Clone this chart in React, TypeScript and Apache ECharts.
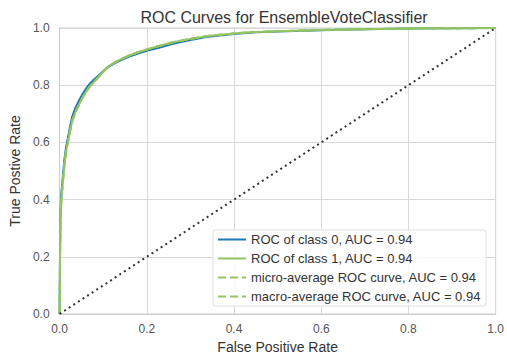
import React, { useEffect, useRef } from "react";
import * as echarts from "echarts";

const fpr = [0, 0.001, 0.002, 0.004, 0.008, 0.011, 0.015, 0.019, 0.024, 0.029, 0.036, 0.044, 0.052, 0.060, 0.069, 0.079, 0.090, 0.100, 0.112, 0.126, 0.142, 0.160, 0.180, 0.200, 0.230, 0.260, 0.300, 0.340, 0.400, 0.450, 0.500, 0.600, 0.700, 0.800, 0.900, 1.0];
const tprClass1 = [0, 0.20, 0.33, 0.40, 0.47, 0.52, 0.57, 0.60, 0.64, 0.675, 0.705, 0.73, 0.755, 0.775, 0.795, 0.812, 0.830, 0.847, 0.866, 0.879, 0.892, 0.904, 0.915, 0.925, 0.938, 0.950, 0.962, 0.972, 0.981, 0.986, 0.989, 0.993, 0.996, 0.998, 0.999, 1.0];
const tprClass0 = [0, 0.21, 0.35, 0.42, 0.49, 0.54, 0.585, 0.615, 0.655, 0.69, 0.72, 0.745, 0.768, 0.787, 0.805, 0.82, 0.835, 0.849, 0.864, 0.876, 0.889, 0.900, 0.911, 0.920, 0.932, 0.945, 0.958, 0.969, 0.979, 0.985, 0.988, 0.992, 0.996, 0.998, 0.999, 1.0];
const tprMicro = tprClass1;
const tprMacro = tprClass1;
const chanceLine = [0, 1];

const seriesNames = [
  "ROC of class 0, AUC = 0.94",
  "ROC of class 1, AUC = 0.94",
  "micro-average ROC curve, AUC = 0.94",
  "macro-average ROC curve, AUC = 0.94",
];
const titleText = "ROC Curves for EnsembleVoteClassifier";
const xName = "False Positive Rate";
const yName = "True Postive Rate";

const BLUE = "#1f77b4";
const GREEN = "#94c463";
const FONT = "Liberation Sans, Arial, sans-serif";

function pairs(xs: number[], ys: number[]) {
  return xs.map((x, i) => [x, ys[i]]);
}

export default function App() {
  const ref = useRef<HTMLDivElement>(null);
  useEffect(() => {
    document.body.style.margin = "0";
    const chart = echarts.init(ref.current!, null, { renderer: "svg" });
    const axisCommon = {
      type: "value" as const,
      min: 0,
      max: 1,
      interval: 0.2,
      nameLocation: "middle" as const,
      nameTextStyle: { fontFamily: FONT, fontSize: 14, color: "#333" },
      axisLine: { show: true, lineStyle: { color: "#cccccc", width: 1 } },
      axisTick: { show: false },
      splitLine: { show: true, lineStyle: { color: "#d9d9d9", width: 1 } },
      axisLabel: {
        fontFamily: FONT,
        fontSize: 12,
        color: "#555",
        formatter: (v: number) => v.toFixed(1),
      },
    };
    chart.setOption({
      animation: false,
      backgroundColor: "#ffffff",
      title: {
        text: titleText,
        left: 279,
        top: 4,
        textAlign: "center",
        textStyle: { fontFamily: FONT, fontSize: 16, fontWeight: "normal", color: "#333" },
      },
      grid: {
        left: 59,
        right: 8,
        top: 28,
        bottom: 45,
        show: true,
        borderColor: "#cccccc",
        borderWidth: 1,
        backgroundColor: "#ffffff",
      },
      xAxis: {
        ...axisCommon,
        name: xName,
        nameGap: 25,
        axisLabel: { ...axisCommon.axisLabel, margin: 9 },
      },
      yAxis: {
        ...axisCommon,
        name: yName,
        nameGap: 35,
        axisLabel: { ...axisCommon.axisLabel, margin: 10 },
      },
      legend: {
        orient: "vertical",
        left: 213,
        top: 230,
        itemWidth: 28,
        itemHeight: 13,
        itemGap: 6,
        padding: [3, 5, 3, 4],
        backgroundColor: "rgba(255,255,255,0.85)",
        borderColor: "#e0e0e0",
        borderWidth: 1,
        borderRadius: 3,
        itemStyle: { opacity: 0 },
        textStyle: { fontFamily: FONT, fontSize: 13, color: "#333" },
        data: seriesNames,
      },
      series: [
        {
          name: seriesNames[0],
          type: "line",
          data: pairs(fpr, tprClass0),
          symbol: "none",
          lineStyle: { color: BLUE, width: 2 },
          itemStyle: { color: BLUE },
          z: 3,
        },
        {
          name: seriesNames[1],
          type: "line",
          data: pairs(fpr, tprClass1),
          symbol: "none",
          lineStyle: { color: GREEN, width: 2 },
          itemStyle: { color: GREEN },
          z: 4,
        },
        {
          name: seriesNames[2],
          type: "line",
          data: pairs(fpr, tprMicro),
          symbol: "none",
          lineStyle: { color: GREEN, width: 2, type: "dashed" },
          itemStyle: { color: GREEN },
          z: 5,
        },
        {
          name: seriesNames[3],
          type: "line",
          data: pairs(fpr, tprMacro),
          symbol: "none",
          lineStyle: { color: GREEN, width: 2, type: "dashed" },
          itemStyle: { color: GREEN },
          z: 5,
        },
        {
          name: "chance",
          type: "line",
          data: pairs(chanceLine, chanceLine),
          symbol: "none",
          lineStyle: { color: "#333", width: 2, type: [2, 3.5] },
          z: 6,
        },
      ],
    });
    return () => chart.dispose();
  }, []);
  return <div ref={ref} style={{ width: 507, height: 359 }} />;
}
